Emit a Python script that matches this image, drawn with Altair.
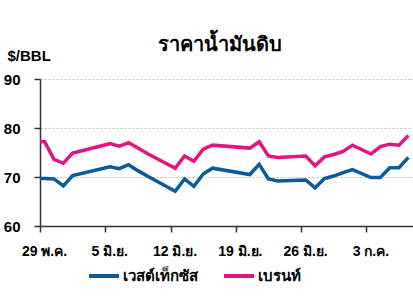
import altair as alt
import pandas as pd

# Trading dates (2023) and prices
dates = ["05-28", "05-29", "05-30", "05-31", "06-01", "06-05", "06-06", "06-07", "06-08", "06-09",
         "06-12", "06-13", "06-14", "06-15", "06-16", "06-20", "06-21", "06-22", "06-23",
         "06-26", "06-27", "06-28", "06-29", "06-30", "07-01", "07-03", "07-04", "07-05",
         "07-06", "07-07"]
wti = [69.7, 69.7, 69.6, 68.2, 70.3, 72.1, 71.7, 72.5, 71.3, 70.2,
       67.1, 69.6, 68.1, 70.6, 71.8, 70.5, 72.6, 69.6, 69.2,
       69.4, 67.8, 69.7, 70.2, 70.9, 71.5, 69.9, 69.9, 71.9,
       71.9, 74.0]
brent = [77.2, 77.2, 73.6, 72.8, 74.9, 76.8, 76.3, 77.0, 75.9, 74.8,
         71.8, 74.3, 73.2, 75.7, 76.5, 75.9, 77.2, 74.3, 74.0,
         74.3, 72.3, 74.1, 74.6, 75.2, 76.5, 74.7, 76.2, 76.7,
         76.5, 78.5]
series_names = ["เวสต์เท็กซัส", "เบรนท์"]
series_colors = ["#0b5a9a", "#e2167f"]
y_ticks = [60, 70, 80, 90]
tick_days = [(5, 29), (6, 5), (6, 12), (6, 19), (6, 26), (7, 3)]
thai_months = {4: "พ.ค.", 5: "มิ.ย.", 6: "ก.ค."}
title_text = "ราคาน้ำมันดิบ"
unit_text = "$/BBL"

rows = []
for d, w, b in zip(dates, wti, brent):
    ts = f"2023-{d}T12:00:00Z"
    rows.append({"date": ts, "series": series_names[0], "value": w})
    rows.append({"date": ts, "series": series_names[1], "value": b})
df = pd.DataFrame(rows)

month_expr = " : ".join(
    f"utcmonth(datum.value)=={m} ? '{name}'" for m, name in thai_months.items()
) + " : ''"
label_expr = f"utcdate(datum.value) + ' ' + ({month_expr})"

FONT = "Liberation Sans"

x = alt.X(
    "date:T",
    scale=alt.Scale(
        type="utc",
        domain=[alt.DateTime(year=2023, month=5, date=29, utc=True),
                alt.DateTime(year=2023, month=7, date=8, utc=True)],
    ),
    axis=alt.Axis(
        title=None,
        values=[alt.DateTime(year=2023, month=m, date=dd, utc=True) for m, dd in tick_days],
        labelExpr=label_expr,
        labelFlush=False,
        labelAlign="center",
        labelOffset=4,
        labelPadding=12,
        labelFontSize=14,
        labelFontWeight="bold",
        labelColor="#000",
        labelFont=FONT,
        tickSize=6,
        tickColor="#333",
        domainColor="#333",
        domainWidth=1.5,
        tickWidth=1.5,
        grid=False,
    ),
)

y = alt.Y(
    "value:Q",
    scale=alt.Scale(domain=[60, 90], nice=False, zero=False),
    axis=alt.Axis(
        values=y_ticks,
        title=unit_text,
        titleAngle=0,
        titleX=-33,
        titleY=-16,
        titleAlign="left",
        titleBaseline="bottom",
        titleFontSize=15,
        titleFontWeight="bold",
        titleFont=FONT,
        titleColor="#000",
        labelFontSize=15,
        labelFontWeight="bold",
        labelFont=FONT,
        labelColor="#000",
        labelPadding=14,
        tickSize=6,
        tickColor="#333",
        tickWidth=1.5,
        domainColor="#333",
        domainWidth=1.5,
        grid=True,
        gridDash=[2, 2],
        gridColor="#bbbbbb",
        gridWidth=1,
    ),
)

chart = (
    alt.Chart(df)
    .mark_line(strokeWidth=3.5, clip=True)
    .encode(
        x=x,
        y=y,
        color=alt.Color(
            "series:N",
            scale=alt.Scale(domain=series_names, range=series_colors),
            legend=alt.Legend(
                title=None,
                orient="none",
                direction="horizontal",
                legendX=47,
                legendY=180,
                symbolType="stroke",
                symbolSize=900,
                symbolStrokeWidth=4,
                labelFontSize=15,
                labelFontWeight="bold",
                labelFont=FONT,
                labelColor="#000",
                columnPadding=18,
                labelOffset=2,
            ),
        ),
        order=alt.Order("date:T"),
    )
    .properties(
        width=373,
        height=147,
        title=alt.TitleParams(
            title_text, fontSize=20, fontWeight="bold", font=FONT,
            anchor="middle", dx=-7, offset=-7, color="#000",
        ),
        autosize=alt.AutoSizeParams(type="none"),
        padding={"left": 40, "top": 79, "right": 0, "bottom": 72},
    )
    .configure_view(stroke=None)
)

chart.save("out.html", embed_options={"renderer": "svg", "actions": False})
